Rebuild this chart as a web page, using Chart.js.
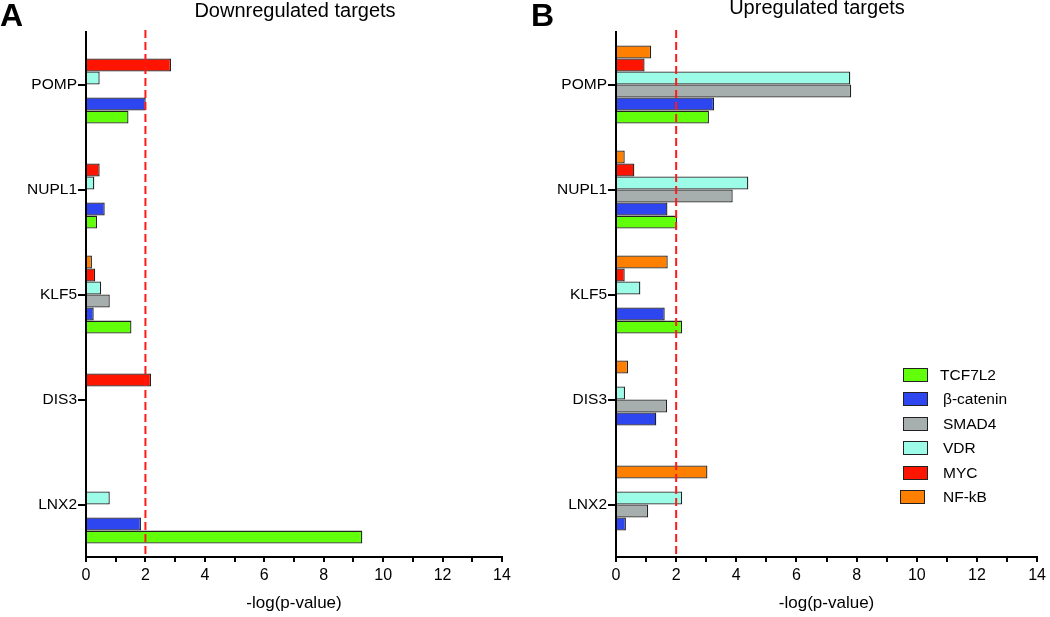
<!DOCTYPE html>
<html>
<head>
<meta charset="utf-8">
<script src="https://cdn.jsdelivr.net/npm/chart.js@4.4.0/dist/chart.umd.min.js"></script>
<style>
  html, body { margin: 0; padding: 0; background: #fff; }
  #wrap { position: relative; width: 1050px; height: 617px; overflow: hidden; font-family: "Liberation Sans", Arial, sans-serif; }
  canvas { position: absolute; top: 0; }
  #chartA { left: 0; }
  #chartB { left: 525px; }
  .letter { position: absolute; top: -3px; font-size: 32px; font-weight: bold; color: #000; }
  .title { position: absolute; font-size: 20px; color: #000; white-space: nowrap; transform: translateX(-50%); }
  #legend { position: absolute; left: 900px; top: 368px; width: 150px; }
  .row { position: relative; height: 24.4px; font-size: 15.5px; white-space: nowrap; }
  .swatch { position: absolute; top: 0; width: 23px; height: 12px; border: 1.3px solid #222; }
  .row span.lbl { position: absolute; top: -2px; white-space: nowrap; }
</style>
</head>
<body>
<div id="wrap">
  <canvas id="chartA" width="525" height="617"></canvas>
  <canvas id="chartB" width="525" height="617"></canvas>
  <div class="letter" style="left:0px">A</div>
  <div class="letter" style="left:531px">B</div>
  <div class="title" style="left:295px; top:-1px">Downregulated targets</div>
  <div class="title" style="left:817px; top:-4px">Upregulated targets</div>
  <div id="legend"></div>
</div>
<script>
// categories (top to bottom) and transcription factors (legend order)
const genes = ['POMP', 'NUPL1', 'KLF5', 'DIS3', 'LNX2'];
const factors = ['TCF7L2', 'β-catenin', 'SMAD4', 'VDR', 'MYC', 'NF-kB'];
const factorColors = ['#62ff0a', '#2e46f0', '#a6afae', '#9cfce8', '#ff1400', '#ff8000'];

// Downregulated targets, -log(p-value)
const downTcf7l2 = [1.43, 0.37, 1.53, null, 9.3];
const downBetaCatenin = [2.01, 0.63, 0.26, null, 1.85];
const downSmad4 = [null, null, 0.8, null, null];
const downVdr = [0.46, 0.28, 0.51, null, 0.8];
const downMyc = [2.86, 0.46, 0.31, 2.19, null];
const downNfkb = [null, null, 0.2, null, null];

// Upregulated targets, -log(p-value)
const upTcf7l2 = [3.09, 2.03, 2.2, null, null];
const upBetaCatenin = [3.26, 1.71, 1.62, 1.34, 0.33];
const upSmad4 = [7.82, 3.88, null, 1.7, 1.07];
const upVdr = [7.79, 4.4, 0.81, 0.3, 2.2];
const upMyc = [0.95, 0.61, 0.29, null, null];
const upNfkb = [1.17, 0.29, 1.72, 0.4, 3.04];

const xMax = 14;
const threshold = 2;

const fontFamily = '"Liberation Sans", Arial, sans-serif';

// red dashed significance line
const thresholdLine = {
    id: 'thresholdLine',
    afterDatasetsDraw(chart) {
        const { ctx, chartArea, scales } = chart;
        const x = scales.x.getPixelForValue(threshold);
        ctx.save();
        ctx.strokeStyle = '#ff1a1a';
        ctx.lineWidth = 2;
        ctx.setLineDash([8, 4]);
        ctx.beginPath();
        ctx.moveTo(x, chartArea.top - 2);
        ctx.lineTo(x, chartArea.bottom);
        ctx.stroke();
        ctx.restore();
    }
};

function makeChart(canvasId, series, axisWidth, rightPad) {
    // dataset 0 is drawn at the top of each group, so reverse legend order
    const datasets = factors.map((name, i) => ({
        label: name,
        data: series[i],
        backgroundColor: factorColors[i],
        borderColor: '#222',
        borderWidth: 1.3,
        categoryPercentage: 0.745,
        barPercentage: 1.0
    })).reverse();

    return new Chart(document.getElementById(canvasId), {
        type: 'bar',
        data: { labels: genes, datasets: datasets },
        options: {
            indexAxis: 'y',
            responsive: false,
            animation: false,
            devicePixelRatio: 1,
            layout: { padding: { top: 32, right: rightPad, bottom: 0, left: 0 } },
            plugins: { legend: { display: false }, tooltip: { enabled: false } },
            scales: {
                x: {
                    type: 'linear',
                    min: 0,
                    max: xMax,
                    afterFit: s => { s.height = 60; },
                    ticks: {
                        stepSize: 1,
                        autoSkip: false,
                        maxRotation: 0,
                        padding: 4,
                        color: '#000',
                        font: { family: fontFamily, size: 16 },
                        callback: v => (v % 2 === 0 ? v : '')
                    },
                    grid: { drawOnChartArea: false, color: '#000', lineWidth: 2, tickLength: 5 },
                    border: { color: '#000', width: 2 },
                    title: {
                        display: true,
                        text: '-log(p-value)',
                        color: '#000',
                        font: { family: fontFamily, size: 17 },
                        padding: { top: 0, bottom: 3 }
                    }
                },
                y: {
                    type: 'category',
                    offset: true,
                    afterFit: s => { s.width = axisWidth; },
                    ticks: {
                        color: '#000',
                        padding: 1,
                        font: { family: fontFamily, size: 15.5 }
                    },
                    grid: { offset: false, drawOnChartArea: false, color: '#000', lineWidth: 2, tickLength: 8 },
                    border: { color: '#000', width: 2 }
                }
            }
        },
        plugins: [thresholdLine]
    });
}

makeChart('chartA', [downTcf7l2, downBetaCatenin, downSmad4, downVdr, downMyc, downNfkb], 86, 23);
makeChart('chartB', [upTcf7l2, upBetaCatenin, upSmad4, upVdr, upMyc, upNfkb], 91, 10);

// legend (panel B)
const legend = document.getElementById('legend');
factors.forEach((name, i) => {
    const row = document.createElement('div');
    row.className = 'row';
    const last = i === factors.length - 1;
    row.innerHTML = '<div class="swatch" style="left:' + (last ? 0 : 3) + 'px;background:' + factorColors[i] + '"></div>' +
        '<span class="lbl" style="left:' + (i === 0 ? 40 : 43) + 'px">' + name + '</span>';
    legend.appendChild(row);
});
</script>
</body>
</html>
